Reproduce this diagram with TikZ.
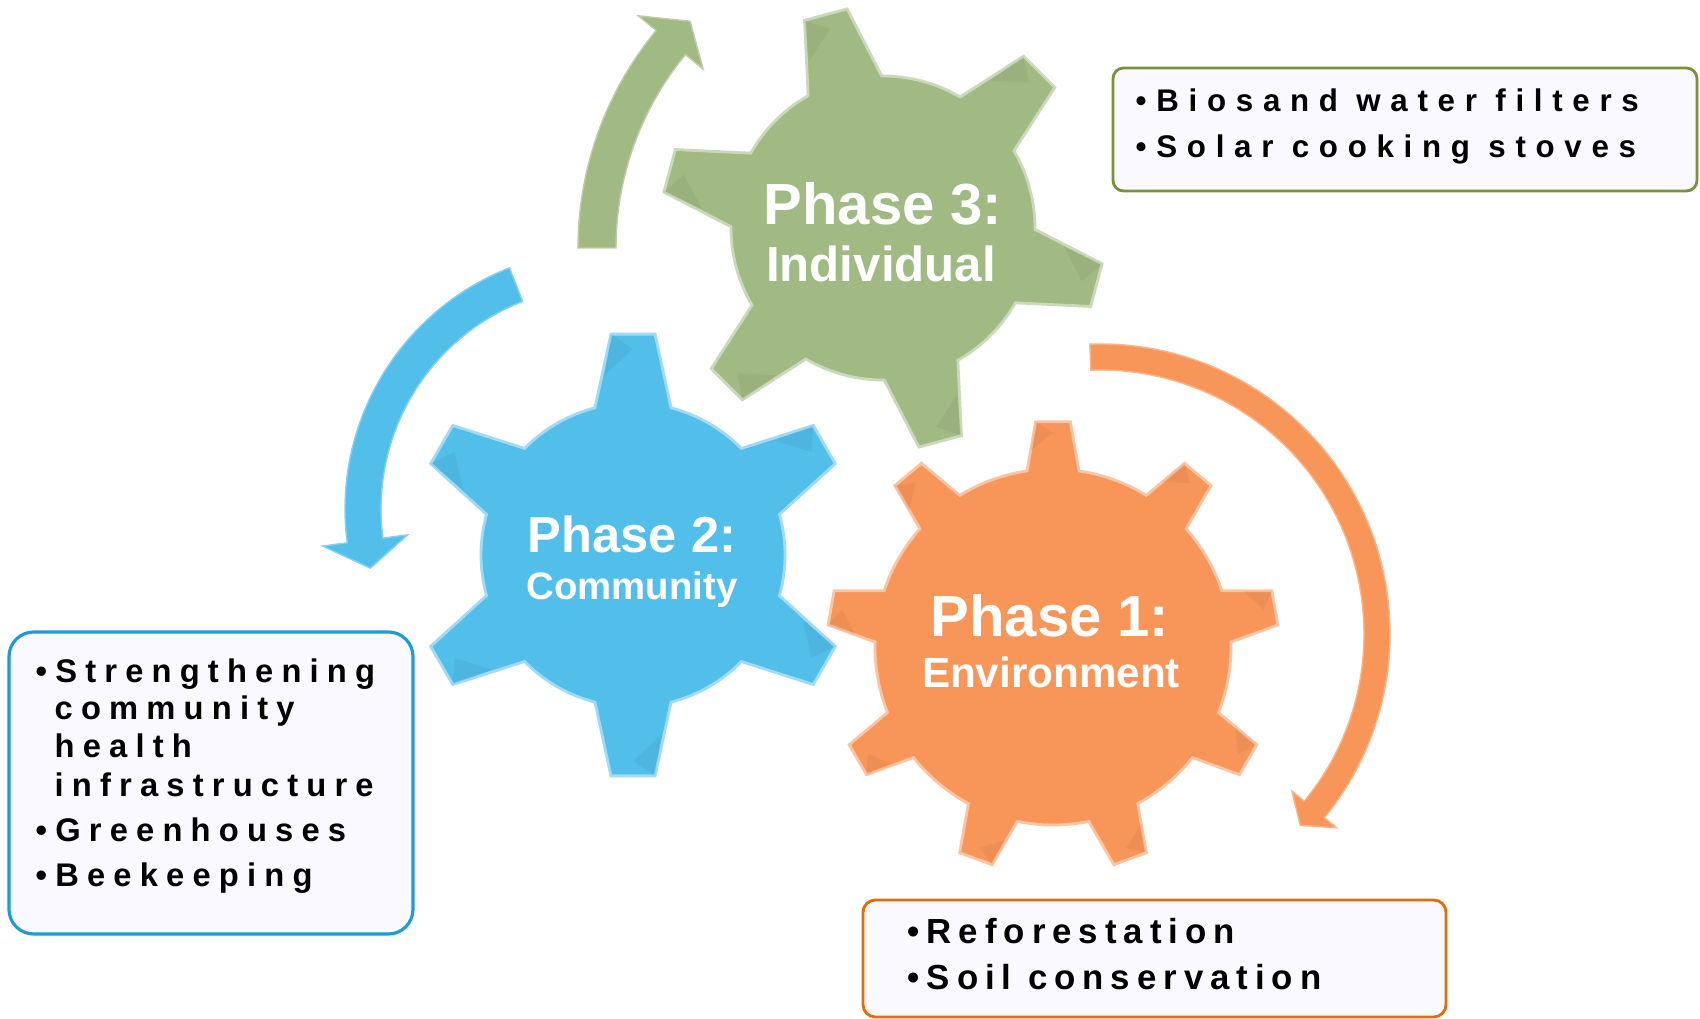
\documentclass[tikz,border=0pt]{standalone}
\usepackage{fontspec}
\setmainfont{Liberation Sans}
\newfontfamily\greenlist{Liberation Sans}[LetterSpace=31]
\newfontfamily\bluelist{Liberation Sans}[LetterSpace=25]
\newfontfamily\orangelist{Liberation Sans}[LetterSpace=20]
\usetikzlibrary{positioning, calc}

\definecolor{gearGreen}{RGB}{161,185,131}
\definecolor{gearBlue}{RGB}{82,190,234}
\definecolor{gearOrange}{RGB}{248,150,89}
\definecolor{rimGreen}{RGB}{118,146,60}
\definecolor{rimBlue}{RGB}{30,155,215}
\definecolor{rimOrange}{RGB}{228,108,10}
\definecolor{boxFill}{RGB}{250,249,255}

\tikzstyle{phase}=[
  text=white,
  inner sep=0pt,
  anchor=base
]
\tikzstyle{listbox}=[
  fill=boxFill,
  line width=0.8pt
]
\tikzstyle{item}=[
  anchor=base west,
  inner sep=0pt
]
\tikzstyle{greenitem}=[item, font=\greenlist\bfseries\fontsize{8.9}{10}\selectfont]
\tikzstyle{blueitem}=[item, font=\bluelist\bfseries\fontsize{9.3}{11}\selectfont]
\tikzstyle{orangeitem}=[item, font=\orangelist\bfseries\fontsize{9.9}{12}\selectfont]

\begin{document}
\begin{tikzpicture}[x=0.01cm, y=0.01cm]

\newcommand\RBody{152}
\newcommand\RTip{222}
\newcommand\RBodyO{178}
\newcommand\RTipO{226}

\fill[white] (0,0) rectangle (1700,1018);
\useasboundingbox (0,0) rectangle (1700,1018);

\coordinate (g1) at (1053,371);
\coordinate (g2) at (633,463);
\coordinate (g3) at (883,790);

%% Phase 1 gear
\filldraw[fill=gearOrange, draw=gearOrange!55!white, line width=0.8pt]
  ($(g1)+(1.6:\RBodyO)$)
  \foreach \ang in {10,50,...,330} {
    -- ($(g1)+(\ang-4.4:\RTipO)$) -- ($(g1)+(\ang+4.4:\RTipO)$)
    -- ($(g1)+(\ang+8.4:\RBodyO)$)
    arc[start angle=\ang+8.4, end angle=\ang+31.6, radius=\RBodyO]
  } -- cycle;
\foreach \ang in {10,50,...,330}
  \fill[gearOrange!70!black, opacity=0.14] ($(g1)+(\ang+4.4:\RTipO)$)
    -- ($(g1)+(\ang:\RTipO-12)$) -- ($(g1)+(\ang+6.5:\RTipO-28)$) -- cycle;

%% Phase 2 gear
\filldraw[fill=gearBlue, draw=gearBlue!55!white, line width=0.8pt]
  ($(g2)+(30-14.5:\RBody)$)
  \foreach \ang in {30,90,...,330} {
    -- ($(g2)+(\ang-5.7:\RTip)$) -- ($(g2)+(\ang+5.7:\RTip)$)
    -- ($(g2)+(\ang+14.5:\RBody)$)
    arc[start angle=\ang+14.5, end angle=\ang+45.5, radius=\RBody]
  } -- cycle;
\foreach \ang in {30,90,...,330}
  \fill[gearBlue!70!black, opacity=0.14] ($(g2)+(\ang+5.7:\RTip)$)
    -- ($(g2)+(\ang:\RTip-16)$) -- ($(g2)+(\ang+9:\RTip-40)$) -- cycle;

%% Phase 3 gear
\filldraw[fill=gearGreen, draw=gearGreen!55!white, line width=0.8pt]
  ($(g3)+(-15-14.5:\RBody)$)
  \foreach \ang in {-15,45,...,285} {
    -- ($(g3)+(\ang-5.7:\RTip)$) -- ($(g3)+(\ang+5.7:\RTip)$)
    -- ($(g3)+(\ang+14.5:\RBody)$)
    arc[start angle=\ang+14.5, end angle=\ang+45.5, radius=\RBody]
  } -- cycle;
\foreach \ang in {-15,45,...,285}
  \fill[gearGreen!70!black, opacity=0.14] ($(g3)+(\ang+5.7:\RTip)$)
    -- ($(g3)+(\ang:\RTip-16)$) -- ($(g3)+(\ang+9:\RTip-40)$) -- cycle;

%% arrows
\coordinate (c1) at (1100,384);
\coordinate (c2) at (604,509);
\coordinate (c3) at (920,770);

\filldraw[fill=gearOrange, draw=gearOrange!70!white, line width=0.4pt]
  ($(c1)+(92:290)$) arc[start angle=92, end angle=-39.3, radius=290]
  -- ($(c1)+(-39.3:306)$) -- ($(c1)+(-43.7:277)$) -- ($(c1)+(-39.3:248)$)
  -- ($(c1)+(-39.3:264)$) arc[start angle=-39.3, end angle=92, radius=264] -- cycle;

\filldraw[fill=gearBlue, draw=gearBlue!70!white, line width=0.4pt]
  ($(c2)+(111.4:223)$) arc[start angle=111.4, end angle=187.5, radius=223]
  -- ($(c2)+(187.5:198)$) -- ($(c2)+(194.2:241)$) -- ($(c2)+(187.5:284)$)
  -- ($(c2)+(187.5:259)$) arc[start angle=187.5, end angle=111.4, radius=259] -- cycle;

\filldraw[fill=gearGreen, draw=gearGreen!70!white, line width=0.4pt]
  ($(c3)+(180:342)$) arc[start angle=180, end angle=140.5, radius=342]
  -- ($(c3)+(140.5:365)$) -- ($(c3)+(135.4:323)$) -- ($(c3)+(140.5:281)$)
  -- ($(c3)+(140.5:304)$) arc[start angle=140.5, end angle=180, radius=304] -- cycle;

%% phase labels
\node[phase, font=\bfseries\fontsize{16.5}{18}\selectfont] (p1) at (1050,381) {Phase 1:};
\node[phase, font=\bfseries\fontsize{12}{14}\selectfont] (p1b) at (1051,330) {Environment};
\node[phase, font=\bfseries\fontsize{14.4}{16}\selectfont] (p2) at (632,465) {Phase 2:};
\node[phase, font=\bfseries\fontsize{10.9}{12}\selectfont] (p2b) at (632,418) {Community};
\node[phase, font=\bfseries\fontsize{16.5}{18}\selectfont] (p3) at (883,793) {Phase 3:};
\node[phase, font=\bfseries\fontsize{14}{16}\selectfont] (p3b) at (881,736) {Individual};

%% lists
\draw[listbox, draw=rimGreen, rounded corners=3pt] (1113,827) rectangle (1697,950);
\node[greenitem] (i1) at (1135,906) {•Biosand water filters};
\node[greenitem] (i2) at (1135,860) {•Solar cooking stoves};

\draw[listbox, draw=rimBlue, rounded corners=7pt, line width=0.9pt] (9,84) rectangle (413,386);
\node[blueitem] (s1) at (35,335) {•Strengthening};
\node[blueitem] (s2) at (54,298) {community};
\node[blueitem] (s3) at (54,260) {health};
\node[blueitem] (s4) at (54,221) {infrastructure};
\node[blueitem] (s5) at (35,176) {•Greenhouses};
\node[blueitem] (s6) at (35,131) {•Beekeeping};

\draw[listbox, draw=rimOrange, rounded corners=3.5pt] (863,1) rectangle (1446,118);
\node[orangeitem] (e1) at (907,74) {•Reforestation};
\node[orangeitem] (e2) at (907,29) {•Soil conservation};

\end{tikzpicture}
\end{document}
